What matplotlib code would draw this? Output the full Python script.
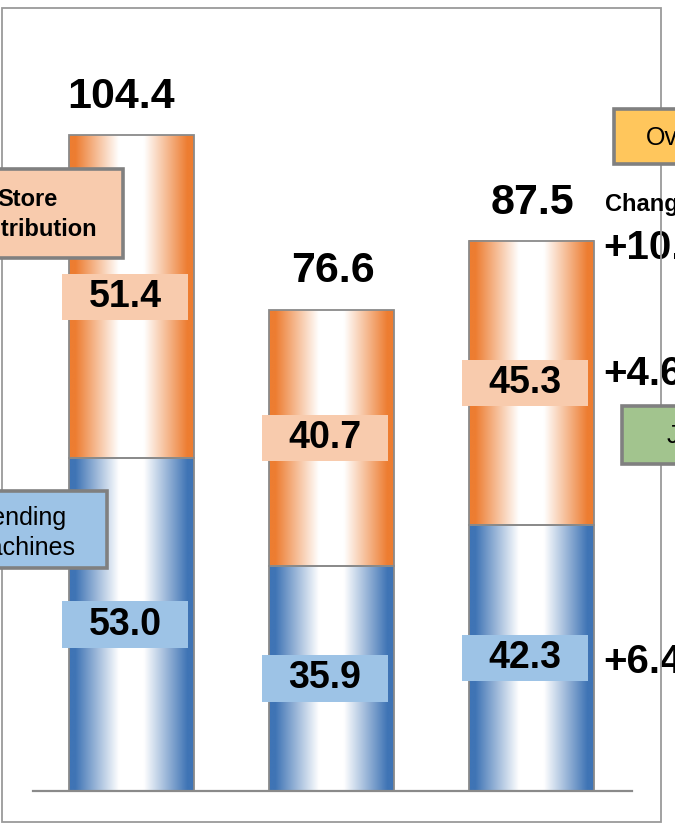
import numpy as np
import matplotlib
matplotlib.use("Agg")
import matplotlib.pyplot as plt
from matplotlib.colors import to_rgb
from matplotlib.patches import Rectangle

plt.rcParams["font.family"] = ["Liberation Sans", "DejaVu Sans"]

# data
bar_pos = [0, 1, 2]
vending = [53.0, 35.9, 42.3]
store = [51.4, 40.7, 45.3]
totals = [104.4, 76.6, 87.5]

ORANGE = "#ED7D31"
BLUE = "#3F74B5"
PEACH = "#F8CBAD"
LBLUE = "#9DC3E6"
EDGE = "#8A8A8A"

W, H = 675, 827
fig = plt.figure(figsize=(W / 100, H / 100), dpi=100)


def fx(px):
    return px / W


def fy(py):
    return 1 - py / H


# axes: baseline at y=791px, 200 px per bar step, 6.28 px per unit
ax = fig.add_axes([fx(33), fy(791), fx(632 - 33), (791 - 8) / H])
ax.set_facecolor("none")


def gradient(color, n=200):
    c = np.array(to_rgb(color))
    w = np.ones(3)
    stops = [0.0, 0.05, 0.40, 0.60, 0.95, 1.0]
    mix = [1.0, 1.0, 0.0, 0.0, 1.0, 1.0]
    t = np.interp(np.linspace(0, 1, n), stops, mix)
    img = w[None, :] * (1 - t[:, None]) + c[None, :] * t[:, None]
    return img[None, :, :]


bw = 0.625
for x, v, s in zip(bar_pos, vending, store):
    x0, x1 = x - bw / 2, x + bw / 2
    ax.imshow(gradient(BLUE), extent=(x0, x1, 0, v), aspect="auto",
              interpolation="bilinear", zorder=2)
    ax.imshow(gradient(ORANGE), extent=(x0, x1, v, v + s), aspect="auto",
              interpolation="bilinear", zorder=2)
    ax.add_patch(Rectangle((x0, 0), bw, v, fill=False, ec=EDGE, lw=1.3, zorder=3))
    ax.add_patch(Rectangle((x0, v), bw, s, fill=False, ec=EDGE, lw=1.3, zorder=3))

# value boxes inside segments
lw_box, lh_box = 0.63, 7.4
for x, v, s in zip(bar_pos, vending, store):
    cx = x - 0.03
    for yc, val, fc in ((v / 2, v, LBLUE), (v + s / 2, s, PEACH)):
        ax.add_patch(Rectangle((cx - lw_box / 2, yc - lh_box / 2), lw_box, lh_box,
                               fc=fc, ec="none", zorder=4))
        ax.text(cx, yc, f"{val:.1f}", ha="center", va="center",
                fontsize=27, fontweight="bold", zorder=5)

# totals above the bars
for x, t in zip(bar_pos, totals):
    dx = -0.05 if x == 0 else 0.01
    ax.text(x + dx, t + 3.0, f"{t:.1f}", ha="center", va="bottom",
            fontsize=31, fontweight="bold")

# change from 2nd to 3rd bar
d_total = totals[2] - totals[1]
d_store = store[2] - store[1]
d_vend = vending[2] - vending[1]
xc = 2.36
ax.text(xc, totals[2] - 1.0, f"+{d_total:.1f}", ha="left", va="center",
        fontsize=29, fontweight="bold", clip_on=False)
ax.text(xc, vending[2] + store[2] / 2 + 1.5, f"+{d_store:.1f}", ha="left",
        va="center", fontsize=29, fontweight="bold", clip_on=False)
ax.text(xc, vending[2] / 2 - 0.6, f"+{d_vend:.1f}", ha="left", va="center",
        fontsize=29, fontweight="bold", clip_on=False)

ax.set_xlim(-0.49, 2.505)
ax.set_ylim(0, 783 / 6.28)
for side in ("top", "left", "right"):
    ax.spines[side].set_visible(False)
ax.spines["bottom"].set_color(EDGE)
ax.spines["bottom"].set_linewidth(1.6)
ax.set_xticks([])
ax.set_yticks([])

# outer frame
fig.patches.append(Rectangle((fx(2), fy(822)), fx(659), (822 - 8) / H,
                             transform=fig.transFigure, fill=False,
                             ec="#9A9A9A", lw=1.3, zorder=1))


def label_box(x0, y0, x1, y1, fc):
    fig.patches.append(Rectangle((fx(x0), fy(y1)), fx(x1 - x0), (y1 - y0) / H,
                                 transform=fig.transFigure, fc=fc, ec="#808080",
                                 lw=2.6, zorder=2))


label_box(-20, 169, 123, 258, PEACH)
fig.text(fx(58), fy(199), "Store", ha="right", va="center", fontsize=17,
         fontweight="bold", zorder=3)
fig.text(fx(97), fy(230), "Distribution", ha="right", va="center", fontsize=17,
         fontweight="bold", zorder=3)

label_box(-20, 491, 107, 568, LBLUE)
fig.text(fx(67), fy(518), "Vending", ha="right", va="center", fontsize=18,
         zorder=3)
fig.text(fx(75), fy(548), "Machines", ha="right", va="center", fontsize=18,
         zorder=3)

label_box(614, 109, 700, 164, "#FFC65C")
fig.text(fx(646), fy(138), "Overall", ha="left", va="center", fontsize=18,
         zorder=3)

fig.text(fx(605), fy(204), "Change", ha="left", va="center", fontsize=17,
         fontweight="bold", zorder=3)

label_box(622, 406, 700, 464, "#A2C48E")
fig.text(fx(667), fy(436), "JT", ha="left", va="center", fontsize=18,
         zorder=3)

fig.savefig("out.png", dpi=100)
